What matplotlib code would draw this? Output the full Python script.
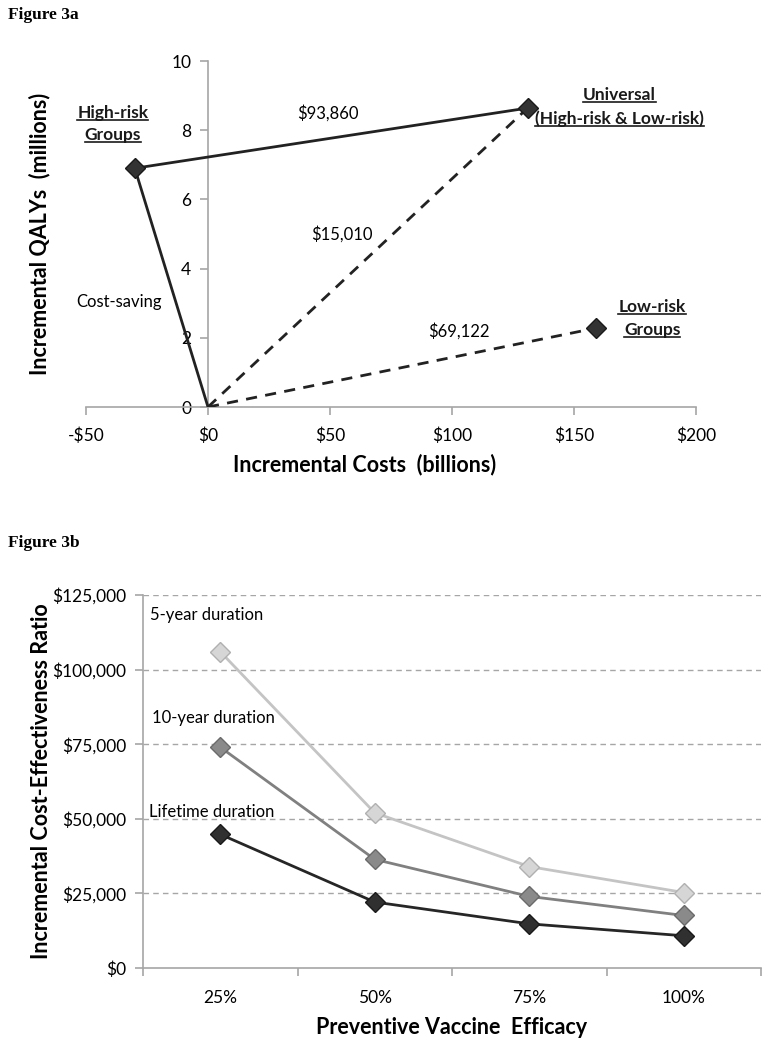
import numpy as np
import matplotlib
matplotlib.use("Agg")
import matplotlib.pyplot as plt
from matplotlib.lines import Line2D
from matplotlib.transforms import IdentityTransform

plt.rcParams['font.family'] = ['Lato', 'DejaVu Sans']

# Figure 3a data: incremental costs (billions) and QALYs (millions)
strategies = ["High-risk Groups", "Universal", "Low-risk Groups"]
inc_cost = [-30, 131, 159]
inc_qaly = [6.9, 8.64, 2.28]
icer_labels = ["$93,860", "$15,010", "Cost-saving", "$69,122"]

# Figure 3b data: ICER by vaccine efficacy and duration
efficacy = ["25%", "50%", "75%", "100%"]
icer_5yr = [106000, 52000, 34000, 25300]
icer_10yr = [74000, 36400, 24000, 17600]
icer_life = [44800, 22100, 14800, 10800]
duration_names = ["5-year duration", "10-year duration", "Lifetime duration"]

W, H = 769, 1043
fig = plt.figure(figsize=(W / 100, H / 100), dpi=100)
fig.patch.set_facecolor("white")

axis_gray = "#a6a6a6"
tick_fs = 12.5
note_fs = 12
lab_fs = 15.5

fig.text(8 / W, 1 - 15 / H, "Figure 3a", family="Liberation Serif", weight="bold",
         fontsize=12.5, va="center", ha="left")
fig.text(8 / W, 1 - 543 / H, "Figure 3b", family="Liberation Serif", weight="bold",
         fontsize=12.5, va="center", ha="left")

# ---------------- Figure 3a ----------------
ax1 = fig.add_axes([86 / W, 1 - 407 / H, (696 - 86) / W, (407 - 61) / H])
ax1.set_xlim(-50, 200)
ax1.set_ylim(0, 10)
for s in ["top", "right"]:
    ax1.spines[s].set_visible(False)
ax1.spines["left"].set_position(("data", 0))
ax1.spines["bottom"].set_position(("data", 0))
for s in ["left", "bottom"]:
    ax1.spines[s].set_color(axis_gray)
    ax1.spines[s].set_linewidth(1.2)
ax1.set_xticks([-50, 0, 50, 100, 150, 200])
ax1.set_xticklabels(["-$50", "$0", "$50", "$100", "$150", "$200"])
ax1.set_yticks([0, 2, 4, 6, 8, 10])
ax1.tick_params(axis="both", colors=axis_gray, labelcolor="black", labelsize=tick_fs,
                direction="out", length=6, width=1.2)
ax1.tick_params(axis="x", pad=9)
ax1.tick_params(axis="y", pad=6)

dark = "#222222"
hr, un, lr = 0, 1, 2
ax1.plot([0, inc_cost[hr], inc_cost[un]], [0, inc_qaly[hr], inc_qaly[un]], "-",
         color=dark, lw=2.0, zorder=3)
ax1.plot([0, inc_cost[un]], [0, inc_qaly[un]], "--", color=dark, lw=2.0,
         dashes=(4, 3), zorder=3)
ax1.plot([0, inc_cost[lr]], [0, inc_qaly[lr]], "--", color=dark, lw=2.0,
         dashes=(4, 3), zorder=3)
ax1.plot(inc_cost, inc_qaly, "D", color="#333333", mec="#1a1a1a", ms=10, zorder=4)

ax1.text(49, 8.5, icer_labels[0], fontsize=note_fs, ha="center", va="center")
ax1.text(55, 5.0, icer_labels[1], fontsize=note_fs, ha="center", va="center")
ax1.text(-36.5, 3.03, icer_labels[2], fontsize=note_fs, ha="center", va="center")
ax1.text(103, 2.2, icer_labels[3], fontsize=note_fs, ha="center", va="center")

underlined = []
for x, y, s in [(-39, 8.5, "High-risk"), (-39, 7.85, "Groups"),
                (168.5, 9.02, "Universal"), (168.5, 8.32, "(High-risk & Low-risk)"),
                (182, 2.89, "Low-risk"), (182, 2.23, "Groups")]:
    underlined.append(ax1.text(x, y, s, fontsize=12.5, weight="bold", ha="center",
                               va="center", color="#1a1a1a"))

ax1.set_xlabel("Incremental Costs  (billions)", fontsize=lab_fs, weight="bold")
ax1.xaxis.set_label_coords((365 - 86) / (696 - 86), -(465 - 407) / (407 - 61))
ax1.xaxis.label.set_va("center")
ax1.set_ylabel("Incremental QALYs  (millions)", fontsize=lab_fs, weight="bold")
ax1.yaxis.set_label_coords(-(86 - 40) / (696 - 86), 0.5)
ax1.yaxis.label.set_va("center")

# ---------------- Figure 3b ----------------
ax2 = fig.add_axes([143 / W, 1 - 968 / H, (761 - 143) / W, (968 - 595) / H])
xpos = np.arange(len(efficacy))
ax2.set_xlim(-0.5, len(efficacy) - 0.5)
ax2.set_ylim(0, 125000)
for s in ["top", "right"]:
    ax2.spines[s].set_visible(False)
for s in ["left", "bottom"]:
    ax2.spines[s].set_color(axis_gray)
    ax2.spines[s].set_linewidth(1.2)
yt = np.arange(0, 125001, 25000)
ax2.set_yticks(yt)
ax2.set_yticklabels(["${:,}".format(v) for v in yt])
for v in yt[1:]:
    ax2.axhline(v, color=axis_gray, lw=1.0, dashes=(4, 3), zorder=1)
ax2.set_xticks(np.arange(-0.5, len(efficacy)), labels=[])
ax2.set_xticks(xpos, labels=efficacy, minor=True)
ax2.tick_params(axis="both", which="major", colors=axis_gray, labelcolor="black",
                labelsize=tick_fs, direction="out", length=6, width=1.2)
ax2.tick_params(axis="x", which="minor", length=0, labelsize=tick_fs, pad=16)
ax2.tick_params(axis="y", pad=6)

series = [(icer_5yr, "#c4c4c4", "#d6d6d6", "#b0b0b0"),
          (icer_10yr, "#808080", "#8a8a8a", "#6a6a6a"),
          (icer_life, "#262626", "#303030", "#1a1a1a")]
for vals, lc, fc, ec in series:
    ax2.plot(xpos, vals, "-", color=lc, lw=2.0, zorder=3)
    ax2.plot(xpos, vals, "D", color=fc, mec=ec, ms=10.5, zorder=4)

ax2.text(-0.455, 118300, duration_names[0], fontsize=note_fs, ha="left", va="center")
ax2.text(-0.44, 83800, duration_names[1], fontsize=note_fs, ha="left", va="center")
ax2.text(-0.46, 52300, duration_names[2], fontsize=note_fs, ha="left", va="center")

ax2.set_xlabel("Preventive Vaccine  Efficacy", fontsize=lab_fs, weight="bold")
ax2.xaxis.set_label_coords(0.5, -(1027 - 968) / (968 - 595))
ax2.xaxis.label.set_va("center")
ax2.set_ylabel("Incremental Cost-Effectiveness Ratio", fontsize=lab_fs, weight="bold")
ax2.yaxis.set_label_coords(-(143 - 42) / (761 - 143), 0.5)
ax2.yaxis.label.set_va("center")

# underline the strategy labels
fig.canvas.draw()
for t in underlined:
    bb = t.get_window_extent()
    fig.add_artist(Line2D([bb.x0, bb.x1], [bb.y0 + 1, bb.y0 + 1], color="#1a1a1a",
                          lw=1.2, transform=IdentityTransform()))

fig.savefig("out.png", dpi=100, facecolor="white")
